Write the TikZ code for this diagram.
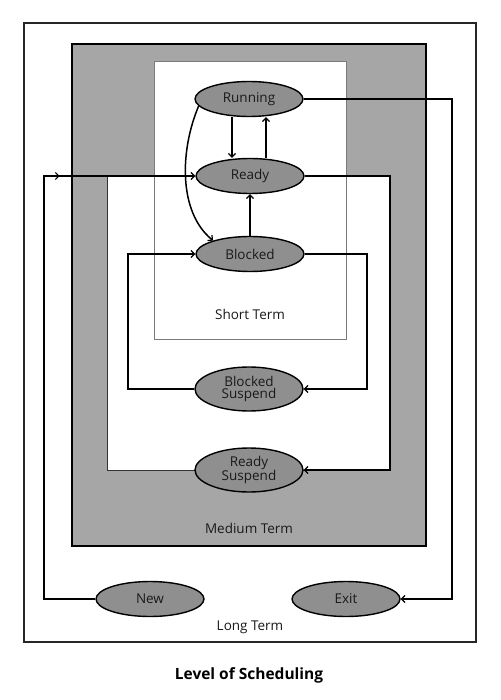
\documentclass[tikz,border=0pt]{standalone}
\usepackage{fontspec}
\setmainfont{Open Sans}
\usetikzlibrary{shapes.geometric,arrows.meta,decorations.markings}
\definecolor{midgray}{HTML}{A6A6A6}
\definecolor{nodegray}{HTML}{8F8F8F}
\definecolor{stgray}{HTML}{7A7A7A}
\definecolor{txt}{HTML}{1A1A1A}
\begin{document}
\begin{tikzpicture}[x=1pt,y=-1pt,
  state/.style={ellipse,draw=black,line width=1.4pt,fill=nodegray,minimum width=108pt,minimum height=35pt,inner sep=0pt,align=center,text=txt,font=\fontsize{13.5}{12.5}\selectfont},
  tallstate/.style={state,minimum height=44pt},
  conn/.style={line width=1.5pt,-{Straight Barb[length=3.5pt,width=7pt,line width=1.2pt]}},
  lbl/.style={text=txt,font=\fontsize{13.5}{14}\selectfont}]
\useasboundingbox (0,0) rectangle (500,700);
\fill[white] (0,0) rectangle (500,700);
% long term frame
\draw[line width=1.3pt,draw=black!85] (24,23) rectangle (476,642);
% medium term
\draw[line width=2pt,fill=midgray] (72,44) rectangle (426,546);
% white area of medium
\draw[fill=white,draw=black!80,line width=0.8pt] (107,176) rectangle (390,470);
% short term
\draw[fill=white,draw=stgray,line width=0.9pt] (154,61) rectangle (346,339);
% nodes
\node[state] (run) at (249,99) {Running};
\node[state] (ready) at (250,176) {Ready};
\node[state] (blk) at (250,254) {Blocked};
\node[tallstate] (bs) at (249,389) {Blocked\\Suspend};
\node[tallstate] (rs) at (249,470) {Ready\\Suspend};
\node[state] (new) at (150,599) {New};
\node[state] (exit) at (346,599) {Exit};
% labels
\node[lbl] (st) at (250,314) {Short Term};
\node[lbl] (mt) at (249,528) {Medium Term};
\node[lbl] (lt) at (250,627) {Long Term};
\node[text=black,font=\bfseries\fontsize{15.5}{17}\selectfont] (title) at (249,675) {Level of Scheduling};
% coordinates
\coordinate (cnew) at (44,599);
\coordinate (cexit) at (452,99);
\coordinate (crs) at (390,176);
\coordinate (cbs) at (367,254);
\coordinate (cbb) at (128,389);
% connectors
\draw[conn] (run.south -| 232,0) -- (ready.north -| 232,0);
\draw[conn] (ready.north -| 266,0) -- (run.south -| 266,0);
\draw[conn] (blk.north) -- (ready.south);
\draw[conn] (run.188) .. controls (180,150) and (178,212) .. (blk.160);
\draw[conn,postaction={decorate},decoration={markings,mark=at position 490pt with {\arrow{Straight Barb[length=3.5pt,width=7pt,line width=1.2pt]}}}] (new.west) -- (cnew) |- (ready.west);
\draw[conn] (ready.east) -- (crs) |- (rs.east);
\draw[conn] (blk.east) -- (cbs) |- (bs.east);
\draw[conn] (bs.west) -- (cbb) |- (blk.west);
\draw[conn] (run.east) -- (cexit) |- (exit.east);
\end{tikzpicture}
\end{document}
